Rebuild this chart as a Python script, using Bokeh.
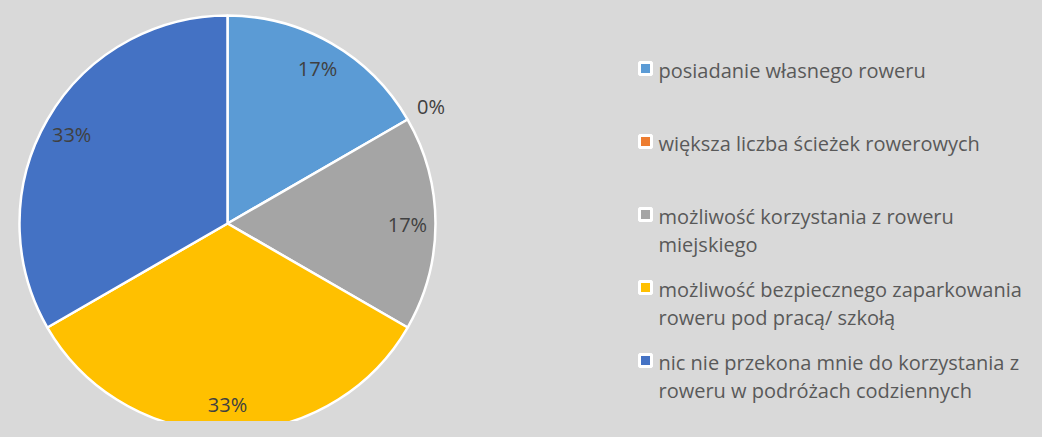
import numpy as np
from bokeh.plotting import figure
from bokeh.models import Range1d, ColumnDataSource
from bokeh.core.properties import value
from bokeh.embed import file_html
from bokeh.resources import INLINE

# ---- data ----
categories = [
    "posiadanie własnego roweru",
    "większa liczba ścieżek rowerowych",
    "możliwość korzystania z roweru miejskiego",
    "możliwość bezpiecznego zaparkowania roweru pod pracą/ szkołą",
    "nic nie przekona mnie do korzystania z roweru w podróżach codziennych",
]
legend_lines = [
    ["posiadanie własnego roweru"],
    ["większa liczba ścieżek rowerowych"],
    ["możliwość korzystania z roweru", "miejskiego"],
    ["możliwość bezpiecznego zaparkowania", "roweru pod pracą/ szkołą"],
    ["nic nie przekona mnie do korzystania z", "roweru w podróżach codziennych"],
]
counts = [1, 0, 1, 2, 2]
colors = ["#5B9BD5", "#ED7D31", "#A5A5A5", "#FFC000", "#4472C4"]

# ---- layout (pixel coords, y flipped into data space) ----
PW, PH = 1026, 421
BG = "#D9D9D9"

p = figure(width=PW, height=PH, output_backend="svg",
           toolbar_location=None, x_range=Range1d(0, PW), y_range=Range1d(0, PH),
           min_border=0, background_fill_color=BG, border_fill_color=BG,
           outline_line_color=None)
p.axis.visible = False
p.grid.visible = False

def Y(y):
    return PH - y

cx, cy, R = 227, Y(223), 208

vals = np.array(counts, dtype=float)
frac = vals / vals.sum()
cum = np.concatenate([[0], np.cumsum(frac)])
start = np.pi / 2 - cum[1:] * 2 * np.pi
end = np.pi / 2 - cum[:-1] * 2 * np.pi

nz = vals > 0
src = ColumnDataSource(dict(start=start[nz], end=end[nz],
                            color=[c for c, k in zip(colors, nz) if k]))
p.wedge(x=cx, y=cy, radius=R, start_angle="start", end_angle="end",
        fill_color="color", line_color="white", line_width=2.5, source=src)

# data labels
mid = (start + end) / 2
lab_r = np.where(frac > 0, 0.865 * R, 1.13 * R)
lx = cx + lab_r * np.cos(mid)
ly = cy + lab_r * np.sin(mid) - 1
labels = [f"{round(f * 100):.0f}%" for f in frac]
p.text(x=lx, y=ly, text=labels, text_font=value("Open Sans"), text_font_size="20px",
       text_color="#404040", text_align="center", text_baseline="middle")

# legend
lx0, ly0, step, lh = 645, 68, 73, 28
for i, lines in enumerate(legend_lines):
    y0 = ly0 + i * step
    p.rect(x=lx0, y=Y(y0), width=12, height=12, fill_color=colors[i],
           line_color="white", line_width=3)
    for j, t in enumerate(lines):
        p.text(x=[lx0 + 13], y=[Y(y0 + 2 + j * lh)], text=[t],
               text_font=value("Open Sans"), text_font_size="20px",
               text_color="#595959", text_align="left", text_baseline="middle")

html = file_html(p, INLINE)
html = html.replace("<html", '<html style="background-color:#D9D9D9;"', 1)
html = html.replace("<body>", '<body style="background-color:#D9D9D9;">', 1)
open("out.html", "w").write(html)
